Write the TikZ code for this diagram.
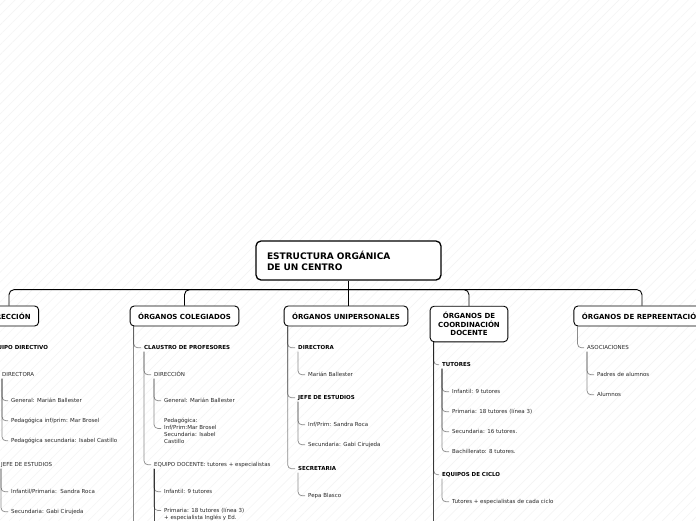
\documentclass[tikz,border=0pt]{standalone}
\usepackage{fontspec}
\setmainfont{DejaVu Sans}
\usetikzlibrary{patterns.meta}

\tikzset{
  rootbox/.style={draw, line width=1.3pt, rounded corners=5pt, fill=white, text width=163pt, align=left, inner xsep=11pt, minimum height=39pt, font=\bfseries\fontsize{9}{11}\selectfont},
  branchbox/.style={draw, line width=0.9pt, rounded corners=4pt, fill=white, align=center, inner xsep=8pt, inner ysep=6pt, minimum height=20pt, font=\bfseries\fontsize{7}{8.5}\selectfont},
  head/.style={anchor=west, yshift=-0.8pt, inner sep=1pt, text height=4pt, text depth=1.2pt, font=\bfseries\fontsize{5.5}{7}\selectfont},
  leaf/.style={anchor=west, yshift=-0.8pt, inner sep=1pt, text height=4pt, text depth=1.2pt, text=black!85, font=\fontsize{5.5}{7}\selectfont},
  multileaf/.style={anchor=north west, inner sep=1pt, align=left, text=black!85, font=\fontsize{5.5}{7}\selectfont},
  link/.style={draw=black, draw opacity=0.45, line width=0.7pt, rounded corners=4pt},
  bus/.style={draw=black, line width=0.9pt, rounded corners=5pt}
}

\begin{document}
\begin{tikzpicture}[x=1pt,y=-1pt]

        \useasboundingbox (0,0) rectangle (696,520);
        \clip (0,0) rectangle (696,520);
        \fill[white] (0,0) rectangle (696,520);
        \fill[pattern={Lines[angle=45,distance=7pt,line width=0.4pt]},pattern color=black!5] (0,0) rectangle (696,520);
        \coordinate (bottom) at (0,540);

        % root and branches
        \node (root) at (348.5,260.5)[rootbox]{ESTRUCTURA ORGÁNICA\\DE UN CENTRO};

        \node (dir) at (9,316)[branchbox]{DIRECCIÓN};
        \node (coleg) at (184.5,316)[branchbox]{ÓRGANOS COLEGIADOS};
        \node (unip) at (346,316)[branchbox]{ÓRGANOS UNIPERSONALES};
        \node (coord) at (469,324)[branchbox]{ÓRGANOS DE\\COORDINACIÓN\\DOCENTE};
        \node (repr) at (642,316)[branchbox]{ÓRGANOS DE REPREENTACIÓN};

        \draw[line width=1.6pt] (root.south) -- ++(0,9) coordinate (hub);
        \draw[bus] (hub) -| (dir.north);
        \draw[bus] (hub) -| (coleg.north);
        \draw[bus] (hub) -- (hub |- unip.north);
        \draw[bus] (hub) -| (coord.north);
        \draw[bus] (hub) -| (repr.north);

        % direccion
        \node (d1) at (-12,347)[head]{EQUIPO DIRECTIVO};
        \node (d11) at (1,374)[leaf]{DIRECTORA};
        \node (d111) at (10,400)[leaf]{General: Marián Ballester};
        \node (d112) at (10,420)[leaf]{Pedagógica inf/prim: Mar Brosel};
        \node (d113) at (10,440)[leaf]{Pedagógica secundaria: Isabel Castillo};
        \node (d12) at (0,464)[leaf]{JEFE DE ESTUDIOS};
        \node (d121) at (10,491)[leaf]{Infantil/Primaria:\ \ Sandra Roca};
        \node (d122) at (10,511)[leaf]{Secundaria: Gabi Cirujeda};

        \draw[link] ([xshift=4pt]dir.south west) |- ([xshift=-2pt]d1.west);
        \draw[link] ([xshift=1pt]d1.south west) |- ([xshift=-2pt]d11.west);
        \draw[link] ([xshift=1pt]d1.south west) |- ([xshift=-2pt]d12.west);
        \draw[link] ([xshift=1pt]d11.south west) |- ([xshift=-2pt]d111.west);
        \draw[link] ([xshift=1pt]d11.south west) |- ([xshift=-2pt]d112.west);
        \draw[link] ([xshift=1pt]d11.south west) |- ([xshift=-2pt]d113.west);
        \draw[link] ([xshift=1pt]d12.south west) |- ([xshift=-2pt]d121.west);
        \draw[link] ([xshift=1pt]d12.south west) |- ([xshift=-2pt]d122.west);

        % colegiados
        \node (c1) at (143,347)[head]{CLAUSTRO DE PROFESORES};
        \node (c11) at (153,374)[leaf]{DIRECCIÓN};
        \node (c111) at (163,400)[leaf]{General: Marián Ballester};
        \node (c112) at (163,417)[multileaf]{Pedagógica:\\Inf/Prim:Mar Brosel\\Secundaria: Isabel\\Castillo};
        \node (c12) at (153,464)[leaf]{EQUIPO DOCENTE: tutores + especialistas};
        \node (c121) at (163,491)[leaf]{Infantil: 9 tutores};
        \node (c122) at (163,507)[multileaf]{Primaria: 18 tutores (línea 3)\\+ especialista Inglés y Ed.};

        \draw[link] ([xshift=4pt]coleg.south west) |- ([xshift=-2pt]c1.west);
        \draw[link] ([xshift=4pt]coleg.south west) coordinate (colegTop) -- (colegTop |- bottom);
        \draw[link] ([xshift=1pt]c1.south west) |- ([xshift=-2pt]c11.west);
        \draw[link] ([xshift=1pt]c1.south west) |- ([xshift=-2pt]c12.west);
        \draw[link] ([xshift=1pt]c11.south west) |- ([xshift=-2pt]c111.west);
        \draw[link] ([xshift=1pt]c11.south west) |- ([xshift=-2pt,yshift=-11.5pt]c112.north west);
        \draw[link] ([xshift=1pt]c12.south west) |- ([xshift=-2pt]c121.west);
        \draw[link] ([xshift=1pt]c12.south west) |- ([xshift=-2pt,yshift=-3.5pt]c122.north west);
        \draw[link] ([xshift=1pt]c12.south west) coordinate (docTop) -- (docTop |- bottom);
        \draw[link] (docTop) -- (docTop |- bottom);

        % unipersonales
        \node (u1) at (297,347)[head]{DIRECTORA};
        \node (u11) at (307,374)[leaf]{Marián Ballester};
        \node (u2) at (297,397)[head]{JEFE DE ESTUDIOS};
        \node (u21) at (307,424)[leaf]{Inf/Prim: Sandra Roca};
        \node (u22) at (307,444)[leaf]{Secundaria: Gabi Cirujeda};
        \node (u3) at (297,468)[head]{SECRETARIA};
        \node (u31) at (307,495)[leaf]{Pepa Blasco};

        \draw[link] ([xshift=4pt]unip.south west) |- ([xshift=-2pt]u1.west);
        \draw[link] ([xshift=4pt]unip.south west) |- ([xshift=-2pt]u2.west);
        \draw[link] ([xshift=4pt]unip.south west) |- ([xshift=-2pt]u3.west);
        \draw[link] ([xshift=1pt]u1.south west) |- ([xshift=-2pt]u11.west);
        \draw[link] ([xshift=1pt]u2.south west) |- ([xshift=-2pt]u21.west);
        \draw[link] ([xshift=1pt]u2.south west) |- ([xshift=-2pt]u22.west);
        \draw[link] ([xshift=1pt]u3.south west) |- ([xshift=-2pt]u31.west);

        % coordinacion docente
        \node (k1) at (441,364)[head]{TUTORES};
        \node (k11) at (451,391)[leaf]{Infantil: 9 tutores};
        \node (k12) at (451,411)[leaf]{Primaria: 18 tutores (línea 3)};
        \node (k13) at (451,431)[leaf]{Secundaria: 16 tutores.};
        \node (k14) at (451,451)[leaf]{Bachillerato: 8 tutores.};
        \node (k2) at (441,474)[head]{EQUIPOS DE CICLO};
        \node (k21) at (451,501)[leaf]{Tutores + especialistas de cada ciclo};

        \draw[link] ([xshift=4pt]coord.south west) |- ([xshift=-2pt]k1.west);
        \draw[link] ([xshift=4pt]coord.south west) |- ([xshift=-2pt]k2.west);
        \draw[link] ([xshift=4pt]coord.south west) coordinate (coordTop) -- (coordTop |- bottom);
        \draw[link] (coordTop) -- (coordTop |- bottom);
        \draw[link] ([xshift=1pt]k1.south west) |- ([xshift=-2pt]k11.west);
        \draw[link] ([xshift=1pt]k1.south west) |- ([xshift=-2pt]k12.west);
        \draw[link] ([xshift=1pt]k1.south west) |- ([xshift=-2pt]k13.west);
        \draw[link] ([xshift=1pt]k1.south west) |- ([xshift=-2pt]k14.west);
        \draw[link] ([xshift=1pt]k2.south west) |- ([xshift=-2pt]k21.west);

        % representacion
        \node (r1) at (586,347)[leaf]{ASOCIACIONES};
        \node (r11) at (596,374)[leaf]{Padres de alumnos};
        \node (r12) at (596,394)[leaf]{Alumnos};

        \draw[link] ([xshift=4pt]repr.south west) |- ([xshift=-2pt]r1.west);
        \draw[link] ([xshift=1pt]r1.south west) |- ([xshift=-2pt]r11.west);
        \draw[link] ([xshift=1pt]r1.south west) |- ([xshift=-2pt]r12.west);
   \end{tikzpicture}
\end{document}
